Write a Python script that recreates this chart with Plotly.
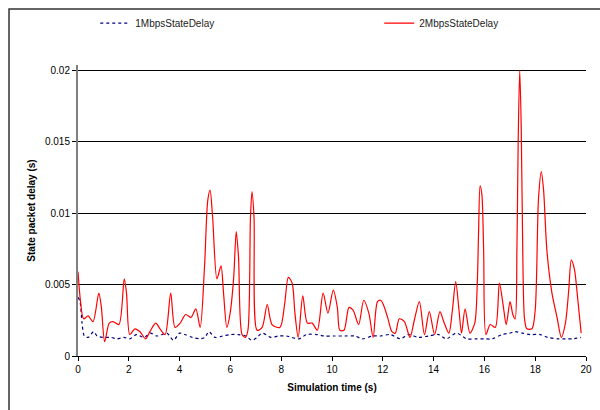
import plotly.graph_objects as go

# 2Mbps series (time s, delay s)
t_2m = [0, 0.1, 0.22, 0.4, 0.59, 0.82, 0.92, 1.05, 1.23, 1.38, 1.61, 1.82, 1.91, 2.04, 2.24, 2.44,
        2.66, 2.83, 3.06, 3.23, 3.43, 3.65, 3.82, 4.02, 4.24, 4.45, 4.64, 4.81, 4.98, 5.11, 5.2,
        5.3, 5.47, 5.63, 5.73, 5.86, 5.99, 6.13, 6.23, 6.32, 6.46, 6.59, 6.69, 6.79, 6.85, 6.93,
        7.05, 7.25, 7.45, 7.64, 7.95, 8.14, 8.28, 8.43, 8.54, 8.67, 8.85, 9.03, 9.22, 9.42, 9.65,
        9.84, 10.05, 10.21, 10.31, 10.47, 10.67, 10.83, 11.05, 11.25, 11.45, 11.62, 11.79, 11.92,
        12.02, 12.19, 12.36, 12.49, 12.65, 12.85, 13.07, 13.24, 13.44, 13.64, 13.83, 14.04, 14.25,
        14.4, 14.6, 14.74, 14.87, 15.0, 15.1, 15.24, 15.43, 15.62, 15.72, 15.77, 15.83, 15.9,
        15.97, 16.06, 16.23, 16.43, 16.59, 16.75, 16.86, 17.01, 17.12, 17.21, 17.28, 17.33, 17.39,
        17.45, 17.52, 17.58, 17.67, 17.87, 18.0, 18.13, 18.24, 18.33, 18.46, 18.66, 18.86, 19.03,
        19.19, 19.32, 19.42, 19.54, 19.68, 19.81]
v_2m = [0.0059, 0.0038, 0.0026, 0.0028, 0.0024, 0.0044, 0.0034, 0.0010, 0.0023, 0.0024, 0.0022,
        0.0054, 0.0044, 0.0015, 0.0019, 0.0017, 0.0012, 0.0017, 0.0023, 0.0019, 0.0015, 0.0044,
        0.0020, 0.0023, 0.0029, 0.0027, 0.0033, 0.0020, 0.0062, 0.0109, 0.0116, 0.0097, 0.0054,
        0.0063, 0.0044, 0.0020, 0.0030, 0.0055, 0.0087, 0.0069, 0.0015, 0.0013, 0.0018, 0.0097,
        0.0115, 0.0097, 0.0018, 0.0020, 0.0036, 0.0022, 0.0020, 0.0037, 0.0055, 0.0051, 0.0030,
        0.0013, 0.0042, 0.0023, 0.0023, 0.0018, 0.0044, 0.0030, 0.0046, 0.0034, 0.0018, 0.0018,
        0.0034, 0.0032, 0.0022, 0.0039, 0.0030, 0.0013, 0.0038, 0.0039, 0.0036, 0.0027, 0.0017,
        0.0016, 0.0026, 0.0024, 0.0013, 0.0025, 0.0038, 0.0015, 0.0031, 0.0015, 0.0031, 0.0024,
        0.0016, 0.0032, 0.0052, 0.0032, 0.0016, 0.0033, 0.0016, 0.0023, 0.0051, 0.0086, 0.0119,
        0.0113, 0.0074, 0.0015, 0.0022, 0.0020, 0.0051, 0.0034, 0.0022, 0.0038, 0.0029, 0.0026,
        0.0074, 0.0150, 0.0200, 0.0160, 0.0060, 0.0026, 0.0019, 0.0019, 0.0032, 0.0110, 0.0129,
        0.0116, 0.0074, 0.0044, 0.0027, 0.0013, 0.0023, 0.0046, 0.0067, 0.0061, 0.0039, 0.0016]

# 1Mbps series
t_1m = [0, 0.08, 0.16, 0.25, 0.4, 0.62, 0.75, 1.0, 1.3, 1.55, 1.8, 2.04, 2.3, 2.6, 2.85, 3.1, 3.3,
        3.5, 3.76, 4.0, 4.2, 4.5, 4.8, 5.0, 5.15, 5.4, 5.7, 6.0, 6.3, 6.6, 6.85, 7.05, 7.25, 7.6,
        7.9, 8.2, 8.7, 9.0, 9.4, 9.7, 10.1, 10.5, 10.9, 11.2, 11.6, 11.9, 12.3, 12.7, 13.0, 13.4,
        13.8, 14.2, 14.5, 14.9, 15.3, 15.7, 16.0, 16.3, 16.7, 17.0, 17.2, 17.5, 17.8, 18.2, 18.5,
        18.9, 19.2, 19.5, 19.8]
v_1m = [0.0041, 0.0038, 0.0023, 0.0014, 0.0013, 0.0017, 0.0014, 0.0013, 0.0013, 0.0012, 0.0013,
        0.0012, 0.0015, 0.0013, 0.0016, 0.0014, 0.0015, 0.0016, 0.0011, 0.0016, 0.0015, 0.0013,
        0.0012, 0.0013, 0.0017, 0.0013, 0.0014, 0.0015, 0.0015, 0.0014, 0.0011, 0.0013, 0.0016,
        0.0013, 0.0014, 0.0014, 0.0012, 0.0015, 0.0015, 0.0014, 0.0014, 0.0014, 0.0014, 0.0012,
        0.0014, 0.0014, 0.0015, 0.0012, 0.0015, 0.0013, 0.0014, 0.0015, 0.0012, 0.0016, 0.0012,
        0.0012, 0.0012, 0.0012, 0.0015, 0.0016, 0.0017, 0.0016, 0.0015, 0.0015, 0.0013, 0.0012,
        0.0012, 0.0012, 0.0013]

x_ticks = [0, 2, 4, 6, 8, 10, 12, 14, 16, 18, 20]
y_ticks = [0, 0.005, 0.01, 0.015, 0.02]
y_tick_labels = ["0", "0.005", "0.01", "0.015", "0.02"]

FONT = "Liberation Sans, Arial, sans-serif"

fig = go.Figure()
fig.add_trace(go.Scatter(x=t_1m, y=v_1m, mode="lines", name="1MbpsStateDelay", legend="legend",
                         line=dict(color="#000080", width=1.2, dash="dot", shape="spline", smoothing=0.8)))
fig.add_trace(go.Scatter(x=t_2m, y=v_2m, mode="lines", name="2MbpsStateDelay", legend="legend2",
                         line=dict(color="#FF0000", width=1.2, shape="spline", smoothing=0.8)))

legend_common = dict(orientation="h", xanchor="left", yanchor="middle", y=1.144,
                     font=dict(size=10, color="#222222"), bgcolor="rgba(0,0,0,0)", borderwidth=0)

fig.update_layout(
    width=600, height=410,
    margin=dict(l=78, r=14, t=65, b=54, autoexpand=False),
    paper_bgcolor="white", plot_bgcolor="white",
    font=dict(family=FONT, size=10, color="black"),
    showlegend=True,
    legend=dict(x=0.034, **legend_common),
    legend2=dict(x=0.593, **legend_common),
    xaxis=dict(range=[0, 20], tickvals=x_ticks, showgrid=False, zeroline=False,
               showline=True, linecolor="black", linewidth=1, ticks="outside", ticklen=4,
               tickcolor="black", tickfont=dict(size=10),
               title=dict(text="<b>Simulation time (s)</b>", font=dict(size=10), standoff=9)),
    yaxis=dict(range=[0, 0.02035], tickvals=y_ticks, ticktext=y_tick_labels,
               showgrid=True, gridcolor="black", gridwidth=1, zeroline=False,
               showline=True, linecolor="#808080", linewidth=2, ticks="outside", ticklen=4,
               tickcolor="black", tickfont=dict(size=10),
               title=dict(text="<b>State packet delay (s)</b>", font=dict(size=10), standoff=7)),
    shapes=[dict(type="rect", xref="paper", yref="paper",
                 x0=-0.1358, x1=1.2, y0=-0.5, y1=1.1924,
                 line=dict(color="#333333", width=1.5), fillcolor="rgba(0,0,0,0)", layer="above")],
)

fig.write_html("out.html", config={"displayModeBar": False},
               post_script="document.body.style.margin='0';document.body.style.overflow='hidden';")
